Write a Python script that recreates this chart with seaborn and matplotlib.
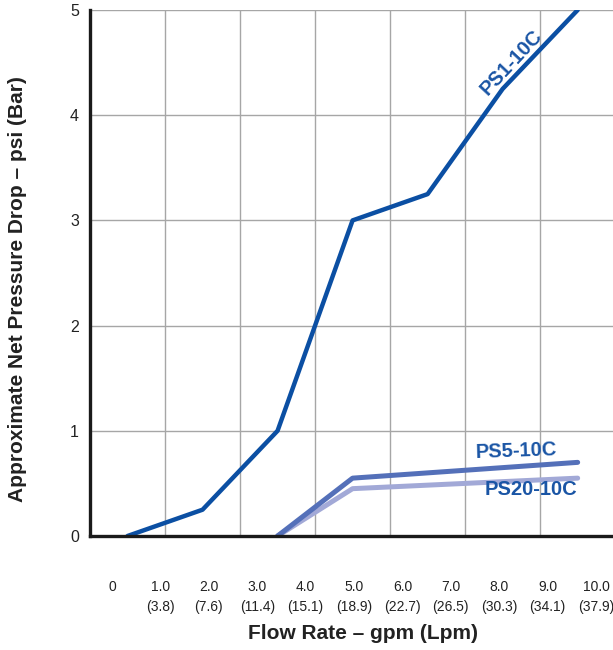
import numpy as np
import pandas as pd
import seaborn as sns
import matplotlib.pyplot as plt

# flow in gpm, pressure drop in psi
ps1_flow = [0.32, 1.87, 3.42, 4.97, 6.52, 8.07, 9.62]
ps1_drop = [0.0, 0.25, 1.0, 3.0, 3.25, 4.25, 5.0]

ps5_flow = [3.42, 4.97, 9.62]
ps5_drop = [0.0, 0.55, 0.70]

ps20_flow = [3.42, 4.97, 9.62]
ps20_drop = [0.0, 0.45, 0.55]

gpm_ticks = [0, 1, 2, 3, 4, 5, 6, 7, 8, 9, 10]
gpm_labels = ["0", "1.0\n(3.8)", "2.0\n(7.6)", "3.0\n(11.4)", "4.0\n(15.1)",
              "5.0\n(18.9)", "6.0\n(22.7)", "7.0\n(26.5)", "8.0\n(30.3)",
              "9.0\n(34.1)", "10.0\n(37.9)"]
psi_ticks = [0, 1, 2, 3, 4, 5]

sns.set_style("white")
plt.rcParams["font.family"] = ["Liberation Sans", "DejaVu Sans"]

fig = plt.figure(figsize=(6.13, 6.5), dpi=100)
ax = fig.add_axes([90 / 613, 1 - 536 / 650, 523 / 613, 526 / 650])

# grid lines are not on the labelled ticks in the original, they are spaced 1.55 gpm
x0 = -0.455
grid_step = 1.5496
grid_x = [x0 + grid_step * k for k in range(1, 7)]
for gx in grid_x:
    ax.axvline(gx, color="#a6a6a6", lw=1.0, zorder=1)
for gy in psi_ticks[1:]:
    ax.axhline(gy, color="#a6a6a6", lw=1.0, zorder=1)

sns.lineplot(x=ps1_flow, y=ps1_drop, ax=ax, color="#0b4fa3", lw=3.2, zorder=4)
sns.lineplot(x=ps5_flow, y=ps5_drop, ax=ax, color="#5470b9", lw=3.6, zorder=3)
sns.lineplot(x=ps20_flow, y=ps20_drop, ax=ax, color="#a2a9d7", lw=3.6, zorder=2)
for line in ax.lines[-3:]:
    line.set_solid_capstyle("round")

ax.set_xlim(x0, 10.35)
ax.set_ylim(0, 5)

ax.set_xticks(gpm_ticks)
ax.set_xticklabels(gpm_labels, fontsize=10, color="#222222", linespacing=1.5)
ax.set_yticks(psi_ticks)
ax.set_yticklabels([str(t) for t in psi_ticks], fontsize=11.5, color="#222222")
ax.tick_params(axis="x", length=0, pad=32)
ax.tick_params(axis="y", length=0, pad=8)

for side in ["top", "right"]:
    ax.spines[side].set_visible(False)
ax.spines["left"].set_color("#1a1a1a")
ax.spines["left"].set_linewidth(2.4)
ax.spines["bottom"].set_color("#1a1a1a")
ax.spines["bottom"].set_linewidth(2.4)
ax.spines["left"].set_zorder(6)
ax.spines["bottom"].set_zorder(6)

ax.set_xlabel("Flow Rate – gpm (Lpm)", fontsize=15, fontweight="bold", color="#222222")
ax.xaxis.set_label_coords(0.522, -0.168)
ax.set_ylabel("Approximate Net Pressure Drop – psi (Bar)", fontsize=15,
              fontweight="bold", color="#222222")
ax.yaxis.set_label_coords(-0.12, 0.47)

txt = "#1a55a5"
ax.text(8.24, 4.5, "PS1-10C", rotation=47, fontsize=14.5, fontweight="bold",
        color=txt, ha="center", va="center")
ax.text(8.35, 0.81, "PS5-10C", rotation=2, fontsize=14.5, fontweight="bold", color=txt,
        ha="center", va="center")
ax.text(8.65, 0.44, "PS20-10C", fontsize=14.5, fontweight="bold", color=txt,
        ha="center", va="center")

plt.savefig("out.png", dpi=100)
